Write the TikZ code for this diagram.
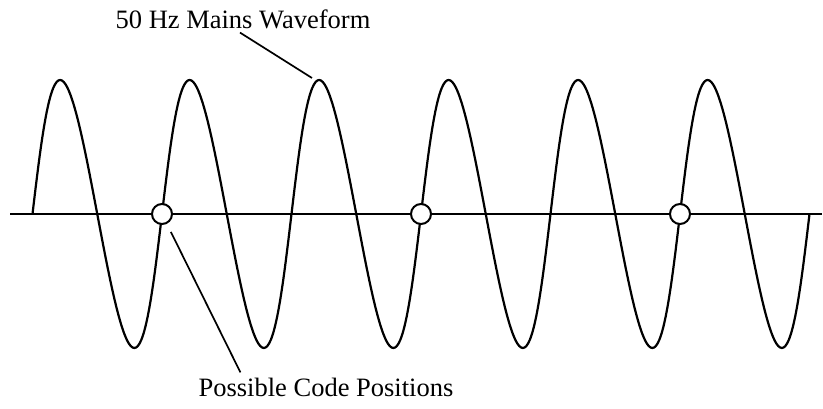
\documentclass[tikz,border=0pt]{standalone}
\usepackage{fontspec}
\setmainfont{Liberation Serif}
\usepackage{tikz}
\usetikzlibrary{calc,positioning}

\begin{document}
\begin{tikzpicture}[x=1pt,y=1pt,
  wave/.style={line width=2.2pt,line join=round},
  leader/.style={line width=1.7pt},
  codept/.style={circle,draw,line width=2pt,fill=white,minimum size=20pt,inner sep=0pt},
  lbl/.style={font=\fontsize{26.5}{30}\selectfont,inner sep=0pt,anchor=base}]
  \useasboundingbox (0,0) rectangle (823,409);
  \coordinate (axL) at (10,195); \coordinate (axR) at (822,195);
  \draw[wave] (axL) -- (axR);
  \draw[wave] plot[domain=0:2160,samples=433,smooth] ({32.5+(\x/360)*129.5-4.75*sin(\x)},{195+134*sin(\x)});
  \foreach \k/\n in {1/c1,3/c2,5/c3}
    \node[codept] (\n) at ({32.5+129.5*\k},195) {};
  \node[lbl] (wavelabel) at (243,380) {50 Hz Mains Waveform};
  \node[lbl] (codelabel) at (326,12) {Possible Code Positions};
  \coordinate (peak) at (312,331);
  \draw[leader] ([xshift=-3pt,yshift=-3pt]wavelabel.south) -- (peak);
  \draw[leader,shorten >=9pt] ([xshift=42pt,yshift=6pt]codelabel.north west) -- (c1);
\end{tikzpicture}
\end{document}
